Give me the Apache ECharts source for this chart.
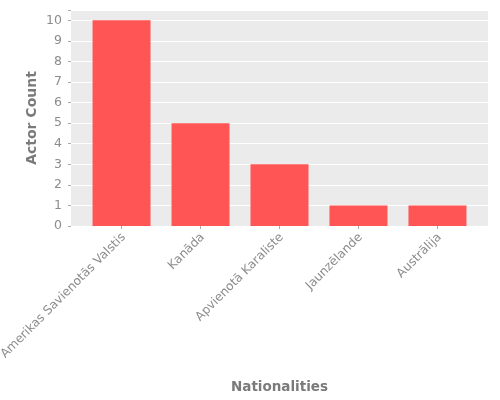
<!DOCTYPE html>
<html>
<head>
<meta charset="utf-8">
<script src="https://cdn.jsdelivr.net/npm/echarts@6/dist/echarts.min.js"></script>
<style>
  html, body { margin: 0; padding: 0; background: #fff; }
  #main { width: 500px; height: 400px; }
</style>
</head>
<body>
<div id="main"></div>
<script>
var nationalities = ['Amerikas Savienotās Valstis', 'Kanāda', 'Apvienotā Karaliste', 'Jaunzēlande', 'Austrālija'];
var actorCounts = [10, 5, 3, 1, 1];
var categoryPositions = [0, 1, 2, 3, 4];

var FONT = 'DejaVu Sans';
var chart = echarts.init(document.getElementById('main'));

var option = {
  animation: false,
  textStyle: { fontFamily: FONT },
  grid: {
    left: 71, right: 12, top: 10, bottom: 174,
    outerBoundsMode: 'none',
    containLabel: false,
    show: true, backgroundColor: '#ebebeb', borderWidth: 0
  },
  xAxis: {
    type: 'value',
    min: -0.64,
    max: 4.64,
    name: 'Nationalities',
    nameLocation: 'middle',
    nameGap: 154,
    nameMoveOverlap: false,
    nameTextStyle: { color: '#7a7a7a', fontSize: 13.5, fontWeight: 'bold', fontFamily: FONT },
    axisLine: { show: false, onZero: false },
    splitLine: { show: false },
    axisTick: { show: true, customValues: categoryPositions, length: 3, lineStyle: { color: '#aaaaaa' } },
    axisLabel: {
      customValues: categoryPositions,
      rotate: 45,
      margin: 11.5,
      padding: [0, -3, 0, 0],
      fontSize: 12.2,
      fontFamily: FONT,
      color: '#8c8c8c',
      formatter: function (v) { return nationalities[Math.round(v)]; }
    }
  },
  yAxis: {
    type: 'value',
    min: 0,
    max: 10.5,
    interval: 1,
    name: 'Actor Count',
    nameLocation: 'middle',
    nameGap: 32,
    nameMoveOverlap: false,
    nameTextStyle: { color: '#7a7a7a', fontSize: 14, fontWeight: 'bold', fontFamily: FONT },
    axisLine: { show: false, onZero: false },
    axisTick: { show: true, length: 3, lineStyle: { color: '#aaaaaa' } },
    axisLabel: {
      margin: 9,
      fontSize: 12.5,
      fontFamily: FONT,
      color: '#8c8c8c',
      formatter: function (v) { return Number.isInteger(v) ? v : ''; }
    },
    splitLine: { show: true, lineStyle: { color: '#ffffff', width: 1 } }
  },
  series: [{
    type: 'bar',
    barWidth: 58,
    data: categoryPositions.map(function (p, i) { return [p, actorCounts[i]]; }),
    itemStyle: { color: '#ff5555' }
  }]
};

chart.setOption(option);
</script>
</body>
</html>
